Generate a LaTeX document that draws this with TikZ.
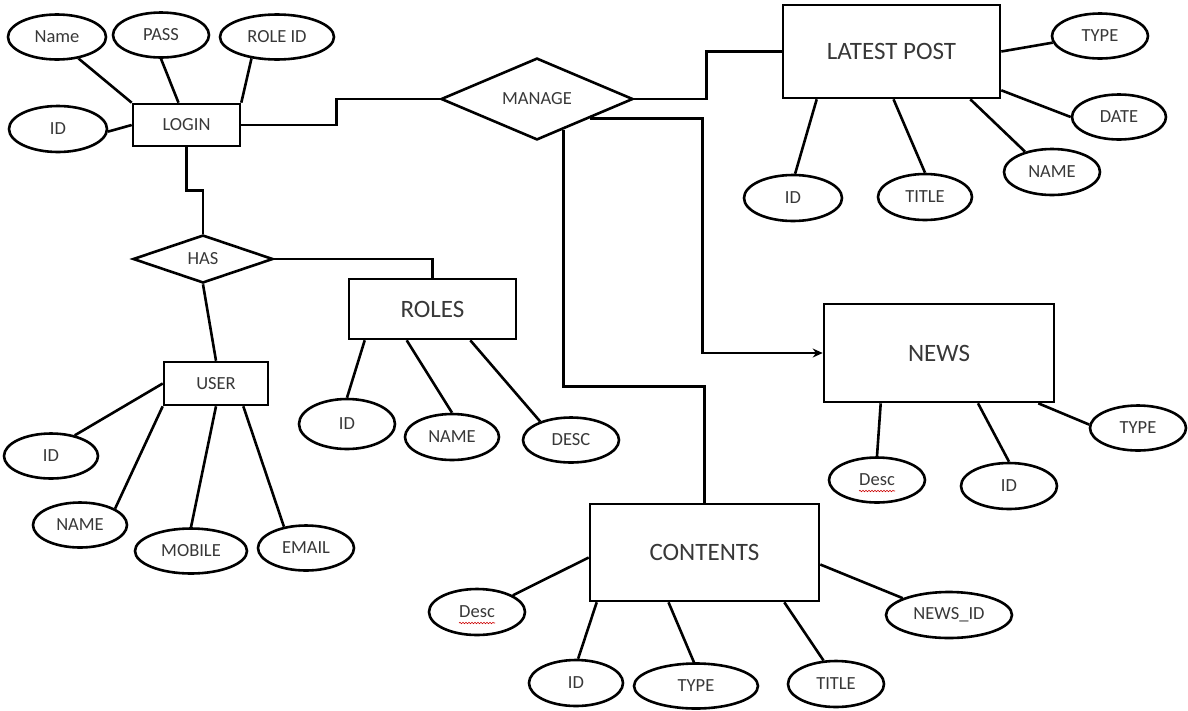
\documentclass[tikz,border=0pt]{standalone}
\usepackage{fontspec}
\setmainfont{Carlito}
\usetikzlibrary{shapes.geometric,arrows.meta,calc,decorations.pathmorphing}
\tikzset{
  base/.style={draw=black, line width=2.6pt, inner sep=0pt, text=black!78},
  attr/.style={base, ellipse, font=\fontsize{18.5}{20}\selectfont},
  ent/.style={base, rectangle, font=\fontsize{18.5}{20}\selectfont},
  bigent/.style={base, rectangle, font=\fontsize{25}{28}\selectfont},
  rel/.style={base, diamond, font=\fontsize{18.5}{20}\selectfont},
  conn/.style={line width=2.6pt, draw=black},
  squiggle/.style={draw=red!80!black, line width=0.6pt, decorate,
    decoration={snake, amplitude=0.7pt, segment length=3pt}}
}
\begin{document}
\begin{tikzpicture}[x=1pt,y=-1pt]
\useasboundingbox (0,0) rectangle (1188,710);

% entities
\node[ent, minimum width=107, minimum height=42] (login) at (186.5,125) {LOGIN};
\node[ent, minimum width=104, minimum height=43] (user) at (216,383.5) {USER};
\node[bigent, minimum width=167, minimum height=60] (roles) at (432.5,309) {ROLES};
\node[bigent, minimum width=217, minimum height=93] (lp) at (891.5,51.5) {LATEST POST};
\node[bigent, minimum width=230, minimum height=98] (news) at (939,353) {NEWS};
\node[bigent, minimum width=229, minimum height=97] (contents) at (704.5,552.5) {CONTENTS};

% relationships
\node[rel, minimum width=192, minimum height=77] (manage) at (537,99) {MANAGE};
\node[rel, minimum width=140, minimum height=48] (has) at (203,259) {HAS};

% LOGIN attributes
\node[attr, minimum width=98, minimum height=45] (lname) at (57,37) {Name};
\node[attr, minimum width=96, minimum height=45] (lpass) at (161,35) {PASS};
\node[attr, minimum width=114, minimum height=45] (lrole) at (277,37) {ROLE ID};
\node[attr, minimum width=98, minimum height=46] (lid) at (58,129) {ID};

% LATEST POST attributes
\node[attr, minimum width=96, minimum height=45] (ptype) at (1100,36) {TYPE};
\node[attr, minimum width=94, minimum height=45] (pdate) at (1119,117) {DATE};
\node[attr, minimum width=96, minimum height=46] (pname) at (1052,172) {NAME};
\node[attr, minimum width=94, minimum height=46] (ptitle) at (925,197) {TITLE};
\node[attr, minimum width=98, minimum height=46] (pid) at (793,198) {ID};

% USER attributes
\node[attr, minimum width=94, minimum height=45] (uid) at (51,456) {ID};
\node[attr, minimum width=94, minimum height=45] (uname) at (80,525) {NAME};
\node[attr, minimum width=112, minimum height=45] (umobile) at (191,551) {MOBILE};
\node[attr, minimum width=96, minimum height=45] (uemail) at (306,548) {EMAIL};

% ROLES attributes
\node[attr, minimum width=96, minimum height=50] (rid) at (347,424) {ID};
\node[attr, minimum width=94, minimum height=46] (rname) at (452,437) {NAME};
\node[attr, minimum width=96, minimum height=45] (rdesc) at (571,440) {DESC};

% NEWS attributes
\node[attr, minimum width=96, minimum height=45] (ndesc) at (877,480) {Desc};
\node[attr, minimum width=96, minimum height=46] (nid) at (1009,486) {ID};
\node[attr, minimum width=96, minimum height=45] (ntype) at (1138,428) {TYPE};

% CONTENTS attributes
\node[attr, minimum width=96, minimum height=46] (cdesc) at (477,612) {Desc};
\node[attr, minimum width=94, minimum height=46] (cid) at (576,683) {ID};
\node[attr, minimum width=124, minimum height=45] (ctype) at (696,686) {TYPE};
\node[attr, minimum width=96, minimum height=46] (ctitle) at (836,684) {TITLE};
\node[attr, minimum width=126, minimum height=46] (cnewsid) at (949,615) {NEWS\_ID};

% spell-check squiggles
\draw[squiggle] ([xshift=-18pt,yshift=-11pt]ndesc.center) -- ++(36,0);
\draw[squiggle] ([xshift=-18pt,yshift=-11pt]cdesc.center) -- ++(36,0);

% relationship connectors
\draw[conn] (login.east) -| ($(manage.west)+(-103,0)$) -- (manage.west);
\draw[conn] (manage.east) -| ($(lp.west)+(-75,0)$) -- (lp.west);
\draw[conn, -{Stealth[length=10pt,width=9pt]}] (manage.-20) -| ($(news.west)+(-120,0)$) -- (news.west);
\draw[conn] (manage.-49) |- ($(contents.north)+(0,-116)$) -- (contents.north);
\draw[conn] (login.south) |- ($(has.north)+(0,-43)$) -- (has.north);
\draw[conn] (has.east) -| (roles.north);
\draw[conn] (has.south) -- (user.north);

% LOGIN attribute lines
\draw[conn] (lname.-45) -- (login.north west);
\draw[conn] (lpass.-90) -- ([xshift=-8pt]login.north);
\draw[conn] (lrole.-140) -- (login.north east);
\draw[conn] (lid.-3) -- (login.west);

% LATEST POST attribute lines
\draw[conn] (ptype.-172) -- (lp.east);
\draw[conn] (pdate.180) -- ([yshift=9pt]lp.south east);
\draw[conn] (pname.143) -- ([xshift=-31pt]lp.south east);
\draw[conn] (ptitle.90) -- ([xshift=2pt]lp.south);
\draw[conn] (pid.85) -- ([xshift=35pt]lp.south west);

% USER attribute lines
\draw[conn] (uid.41) -- (user.west);
\draw[conn] (uname.25) -- (user.south west);
\draw[conn] (umobile.90) -- (user.south);
\draw[conn] (uemail.136) -- ([xshift=-26pt]user.south east);

% ROLES attribute lines
\draw[conn] (rid.90) -- ([xshift=17pt]roles.south west);
\draw[conn] (rname.90) -- ([xshift=59pt]roles.south west);
\draw[conn] (rdesc.149) -- ([xshift=-47pt]roles.south east);

% NEWS attribute lines
\draw[conn] (ndesc.90) -- ([xshift=58pt]news.south west);
\draw[conn] (nid.90) -- ([xshift=39pt]news.south);
\draw[conn] (ntype.176) -- ([xshift=-17pt]news.south east);

% CONTENTS attribute lines
\draw[conn] (cdesc.25) -- ([yshift=-5pt]contents.west);
\draw[conn] (cid.85) -- ([xshift=8pt]contents.south west);
\draw[conn] (ctype.95) -- ([xshift=-36pt]contents.south);
\draw[conn] (ctitle.118) -- ([xshift=-36pt]contents.south east);
\draw[conn] (cnewsid.160) -- ([yshift=-12pt]contents.east);
\end{tikzpicture}
\end{document}
